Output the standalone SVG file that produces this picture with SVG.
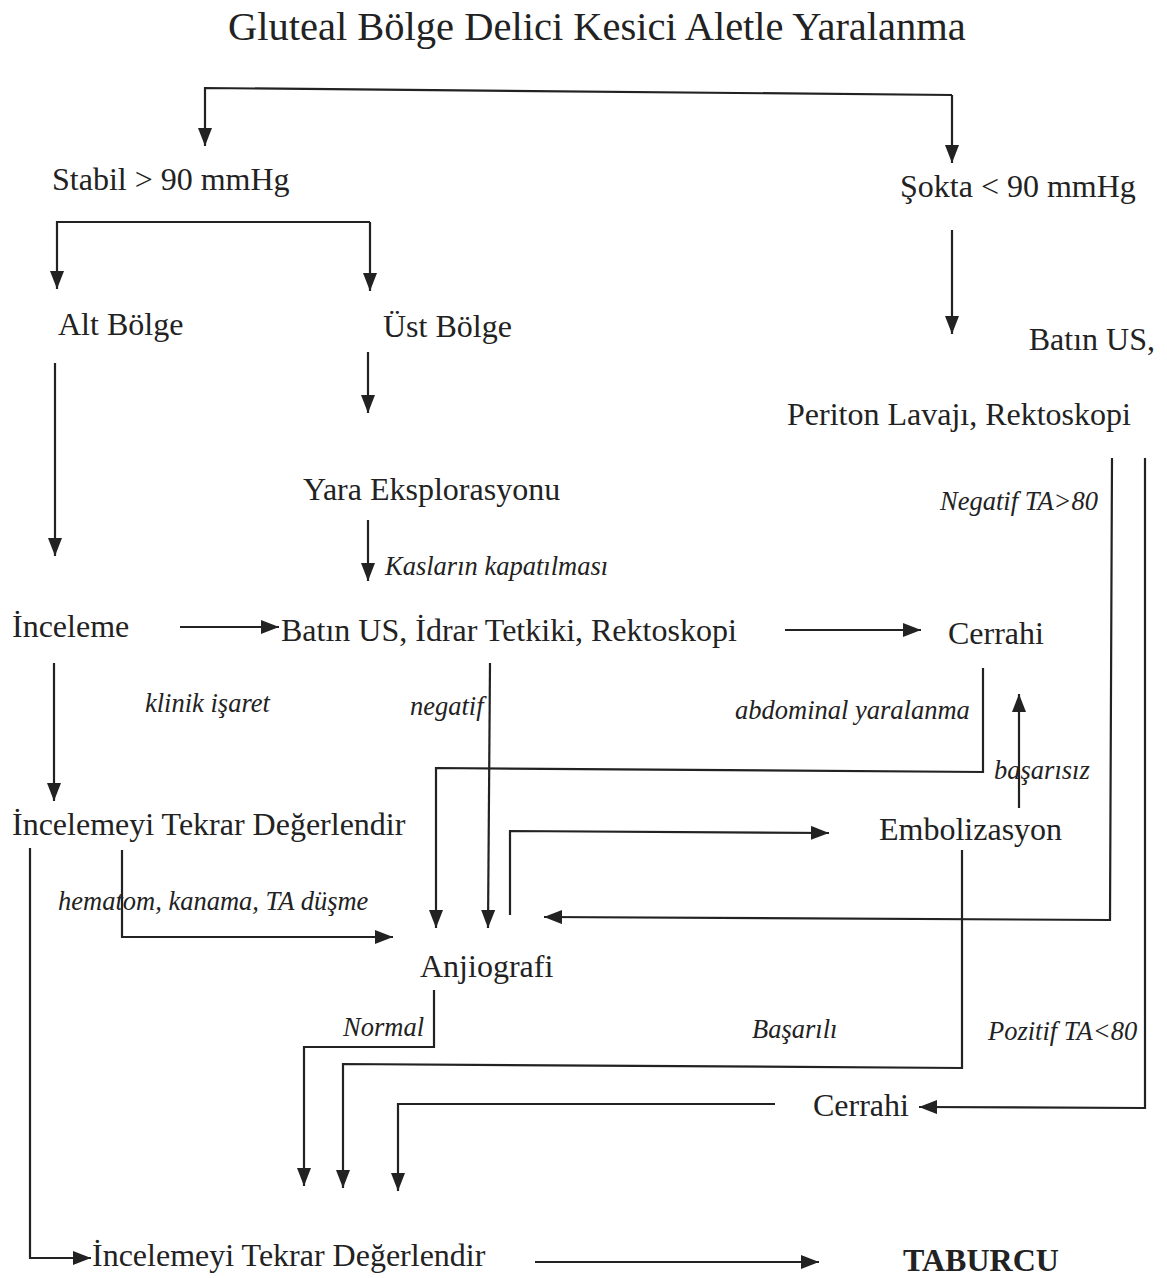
<svg xmlns="http://www.w3.org/2000/svg" width="1167" height="1278" viewBox="0 0 1167 1278">
<style>
  .t { font-family: "Liberation Serif", "Times New Roman", serif; font-size: 32px; fill: #222; }
  .title { font-family: "Liberation Serif", "Times New Roman", serif; font-size: 40.5px; fill: #222; }
  .lbl { font-family: "Liberation Serif", "Times New Roman", serif; font-size: 26.5px; font-style: italic; fill: #222; }
  .b { font-weight: bold; }
  .c { fill: none; stroke: #222; stroke-width: 2.2; }
  .a { marker-end: url(#arr); }
</style>
<defs>
  <marker id="arr" markerUnits="userSpaceOnUse" markerWidth="19" markerHeight="14" refX="18" refY="7" orient="auto">
    <path d="M0,0 L18,7 L0,14 z" fill="#222"/>
  </marker>
</defs>
<rect width="1167" height="1278" fill="#fff"/>

<g id="title"><text class="title" x="228" y="40">Gluteal Bölge Delici Kesici Aletle Yaralanma</text></g>

<g id="connectors">
  <path class="c a" d="M952,95 L205,88 L205,146"/>
  <path class="c a" d="M952,95 L952,163"/>
  <path class="c a" d="M370,222 L57,222 L57,289"/>
  <path class="c a" d="M370,222 L370,291"/>
  <path class="c a" d="M952,230 L952,334"/>
  <path class="c a" d="M368,352 L368,413"/>
  <path class="c a" d="M368,520 L368,581"/>
  <path class="c a" d="M55,363 L55,556"/>
  <path class="c a" d="M180,627 L279,627"/>
  <path class="c a" d="M785,630 L921,630"/>
  <path class="c a" d="M54,663 L54,801"/>
  <path class="c a" d="M490,663 L488,928"/>
  <path class="c a" d="M983,668 L983,772 L436,768 L436,928"/>
  <path class="c a" d="M1019,808 L1019,694"/>
  <path class="c a" d="M510,915 L510,831 L829,833"/>
  <path class="c a" d="M1112,458 L1110,920 L544,917"/>
  <path class="c a" d="M1145,458 L1145,1108 L919,1107"/>
  <path class="c a" d="M30,848 L30,1258 L91,1258"/>
  <path class="c a" d="M122,850 L122,937 L393,937"/>
  <path class="c a" d="M434,990 L434,1047 L304,1047 L304,1186"/>
  <path class="c a" d="M962,850 L962,1068 L343,1064 L343,1188"/>
  <path class="c a" d="M775,1104 L398,1104 L398,1191"/>
  <path class="c a" d="M535,1262 L819,1262"/>
</g>

<g id="n-stabil"><text class="t" x="52" y="190">Stabil &gt; 90 mmHg</text></g>
<g id="n-sokta"><text class="t" x="900" y="197">Şokta &lt; 90 mmHg</text></g>
<g id="n-alt"><text class="t" x="58" y="335">Alt Bölge</text></g>
<g id="n-ust"><text class="t" x="383" y="337">Üst Bölge</text></g>
<g id="n-batin-periton">
  <text class="t" x="1155" y="350" text-anchor="end">Batın US,</text>
  <text class="t" x="787" y="425">Periton Lavajı, Rektoskopi</text>
</g>
<g id="n-yara"><text class="t" x="303" y="500">Yara Eksplorasyonu</text></g>
<g id="n-inceleme"><text class="t" x="12" y="637">İnceleme</text></g>
<g id="n-batin"><text class="t" x="281" y="641">Batın US, İdrar Tetkiki, Rektoskopi</text></g>
<g id="n-cerrahi1"><text class="t" x="948" y="644">Cerrahi</text></g>
<g id="n-incelemeyi1"><text class="t" x="12" y="835">İncelemeyi Tekrar Değerlendir</text></g>
<g id="n-emboli"><text class="t" x="879" y="840">Embolizasyon</text></g>
<g id="n-anjio"><text class="t" x="420" y="977">Anjiografi</text></g>
<g id="n-cerrahi2"><text class="t" x="813" y="1116">Cerrahi</text></g>
<g id="n-incelemeyi2"><text class="t" x="92" y="1266">İncelemeyi Tekrar Değerlendir</text></g>
<g id="n-taburcu"><text class="t b" x="903" y="1271">TABURCU</text></g>

<g id="labels">
  <text class="lbl" x="385" y="575">Kasların kapatılması</text>
  <text class="lbl" x="940" y="510">Negatif TA&gt;80</text>
  <text class="lbl" x="145" y="712">klinik işaret</text>
  <text class="lbl" x="410" y="715">negatif</text>
  <text class="lbl" x="735" y="719">abdominal yaralanma</text>
  <text class="lbl" x="994" y="779">başarısız</text>
  <text class="lbl" x="58" y="910">hematom, kanama, TA düşme</text>
  <text class="lbl" x="343" y="1036">Normal</text>
  <text class="lbl" x="752" y="1038">Başarılı</text>
  <text class="lbl" x="988" y="1040">Pozitif TA&lt;80</text>
</g>
</svg>
